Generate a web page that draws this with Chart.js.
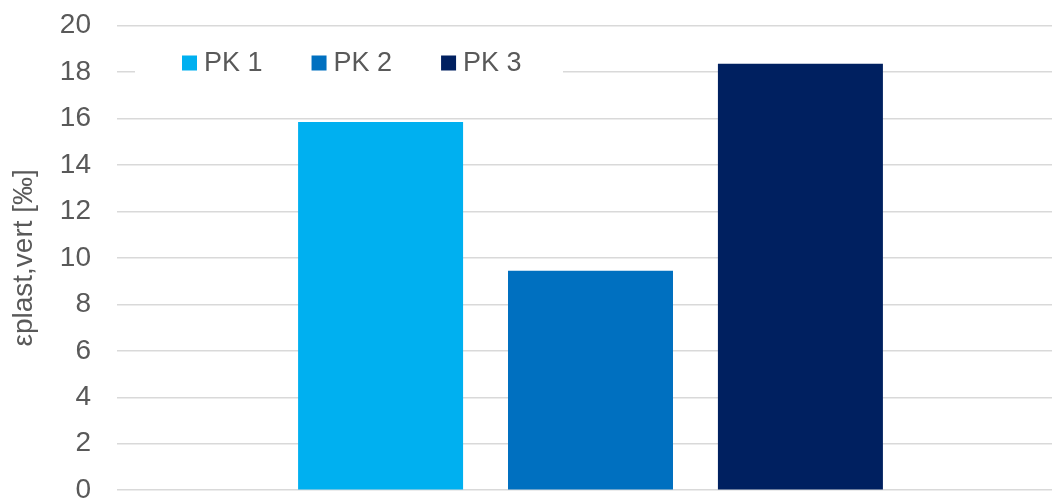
<!DOCTYPE html>
<html>
<head>
<meta charset="utf-8">
<script src="https://cdn.jsdelivr.net/npm/chart.js@4/dist/chart.umd.min.js"></script>
<style>
    html, body { margin: 0; padding: 0; background: #fff; overflow: hidden; }
    #wrap { width: 1064px; height: 507px; position: relative; }
</style>
</head>
<body>
<div id="wrap"><canvas id="grafico"></canvas></div>
<script>
var categorias = [''];
var series = ['PK 1', 'PK 2', 'PK 3'];
var valores = [[15.85], [9.45], [18.35]];
var cores = ['#00B0F0', '#0070C0', '#002060'];
var yMin = 0, yMax = 20, yPasso = 2;

var corTexto = '#595959';
var fonte = "'Liberation Sans', Arial, sans-serif";

// legenda desenhada dentro da area do grafico, com fundo branco sobre a grade
var legendaInterna = {
    id: 'legendaInterna',
    beforeDatasetsDraw: function (chart) {
        var ctx = chart.ctx;
        var y = 63;
        ctx.save();
        ctx.fillStyle = '#ffffff';
        ctx.fillRect(135, 48, 428, 30);
        ctx.font = '27px ' + fonte;
        ctx.textBaseline = 'middle';
        var x = 182;
        chart.data.datasets.forEach(function (ds) {
            ctx.fillStyle = ds.backgroundColor;
            ctx.fillRect(x, y - 7.5, 15, 15);
            ctx.fillStyle = corTexto;
            ctx.fillText(ds.label, x + 22, y + 1);
            x += 22 + ctx.measureText(ds.label).width + 49;
        });
        ctx.restore();
    }
};

var datasets = [];
for (var i = 0; i < series.length; i++) {
    datasets.push({
        label: series[i],
        data: valores[i],
        backgroundColor: cores[i],
        borderWidth: 0,
        categoryPercentage: 0.665,
        barPercentage: 0.786
    });
}

var grafico = new Chart(document.getElementById('grafico'), {
    type: 'bar',
    data: { labels: categorias, datasets: datasets },
    options: {
        responsive: true,
        maintainAspectRatio: false,
        animation: false,
        layout: { padding: { top: 25.5, right: 0, bottom: 0, left: 0 } },
        plugins: {
            legend: { display: false },
            tooltip: { enabled: false }
        },
        scales: {
            x: { display: false },
            y: {
                min: yMin,
                max: yMax,
                afterFit: function (scale) { scale.width = 117; },
                ticks: {
                    stepSize: yPasso,
                    color: corTexto,
                    padding: 0,
                    font: { family: fonte, size: 28 }
                },
                // marcas invisiveis só para afastar os rótulos da grade
                grid: { color: '#D9D9D9', lineWidth: 1.5, drawTicks: true, tickLength: 26, tickColor: 'rgba(0,0,0,0)' },
                border: { display: false },
                title: {
                    display: true,
                    text: 'εplast,vert [‰]',
                    color: corTexto,
                    padding: { top: 7 },
                    font: { family: fonte, size: 28 }
                }
            }
        }
    },
    plugins: [legendaInterna]
});
</script>
</body>
</html>
